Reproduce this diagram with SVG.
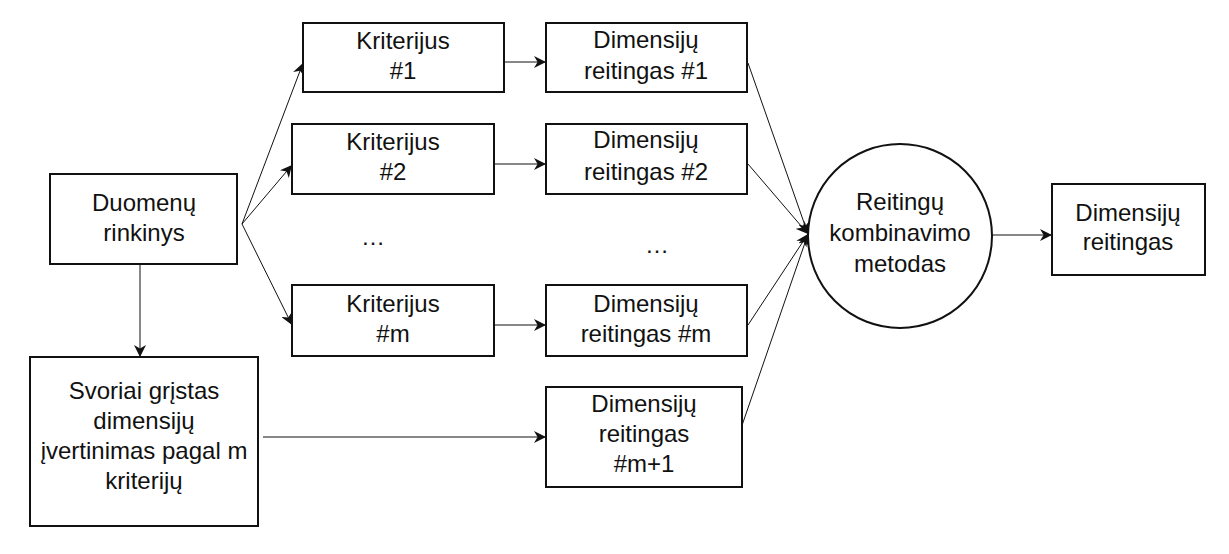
<svg xmlns="http://www.w3.org/2000/svg" width="1229" height="554" viewBox="0 0 1229 554">
<style>
.box{fill:#fff;stroke:#111;stroke-width:2}
.t{font-family:"Liberation Sans",Arial,sans-serif;font-size:24px;fill:#111;text-anchor:middle}
.c{fill:none;stroke:#111;stroke-width:1}
</style>
<defs>
<marker id="ah" markerWidth="12" markerHeight="12" refX="10" refY="5" orient="auto" markerUnits="userSpaceOnUse" viewBox="0 0 10 10">
<path d="M0,0 L10,5 L0,10 L3,5 z" fill="#111"/>
</marker>
</defs>
<rect width="1229" height="554" fill="#fff"/>
<g id="connectors">
<line class="c" x1="242" y1="224" x2="303" y2="63" marker-end="url(#ah)"/>
<line class="c" x1="242" y1="224" x2="292" y2="165" marker-end="url(#ah)"/>
<line class="c" x1="242" y1="224" x2="292" y2="325" marker-end="url(#ah)"/>
<line class="c" x1="140" y1="264" x2="140" y2="357" marker-end="url(#ah)"/>
<line class="c" x1="504" y1="62" x2="546" y2="62" marker-end="url(#ah)"/>
<line class="c" x1="494" y1="164" x2="546" y2="164" marker-end="url(#ah)"/>
<line class="c" x1="494" y1="325" x2="546" y2="325" marker-end="url(#ah)"/>
<line class="c" x1="263" y1="437" x2="546" y2="437" marker-end="url(#ah)"/>
<line class="c" x1="748" y1="63" x2="808" y2="234" marker-end="url(#ah)"/>
<line class="c" x1="748" y1="164" x2="808" y2="234" marker-end="url(#ah)"/>
<line class="c" x1="748" y1="325" x2="808" y2="234" marker-end="url(#ah)"/>
<line class="c" x1="738" y1="437" x2="808" y2="234" marker-end="url(#ah)"/>
<line class="c" x1="992" y1="235" x2="1052" y2="235" marker-end="url(#ah)"/>
</g>
<g id="duomenu">
<rect class="box" x="50" y="174" width="187" height="90"/>
<text class="t" x="144" y="211">Duomenų</text>
<text class="t" x="144" y="241">rinkinys</text>
</g>
<g id="svoriai">
<rect class="box" x="30" y="357" width="228" height="169"/>
<text class="t" x="144" y="399">Svoriai grįstas</text>
<text class="t" x="144" y="429">dimensijų</text>
<text class="t" x="144" y="459">įvertinimas pagal m</text>
<text class="t" x="144" y="489">kriterijų</text>
</g>
<g id="krit1">
<rect class="box" x="303" y="23" width="201" height="69"/>
<text class="t" x="403" y="49">Kriterijus</text>
<text class="t" x="403" y="79">#1</text>
</g>
<g id="krit2">
<rect class="box" x="292" y="124" width="202" height="70"/>
<text class="t" x="393" y="150">Kriterijus</text>
<text class="t" x="393" y="180">#2</text>
</g>
<g id="dots1"><text class="t" x="373" y="245">…</text></g>
<g id="kritm">
<rect class="box" x="292" y="285" width="202" height="71"/>
<text class="t" x="393" y="312">Kriterijus</text>
<text class="t" x="393" y="342">#m</text>
</g>
<g id="dim1">
<rect class="box" x="546" y="23" width="201" height="69"/>
<text class="t" x="646" y="48">Dimensijų</text>
<text class="t" x="646" y="79">reitingas #1</text>
</g>
<g id="dim2">
<rect class="box" x="546" y="124" width="201" height="70"/>
<text class="t" x="646" y="148">Dimensijų</text>
<text class="t" x="646" y="180">reitingas #2</text>
</g>
<g id="dots2"><text class="t" x="657" y="253">…</text></g>
<g id="dimm">
<rect class="box" x="546" y="285" width="201" height="71"/>
<text class="t" x="646" y="312">Dimensijų</text>
<text class="t" x="646" y="342">reitingas #m</text>
</g>
<g id="dimm1">
<rect class="box" x="546" y="387" width="196" height="100"/>
<text class="t" x="644" y="412">Dimensijų</text>
<text class="t" x="644" y="442">reitingas</text>
<text class="t" x="644" y="472">#m+1</text>
</g>
<g id="komb">
<circle class="box" cx="900" cy="236" r="92"/>
<text class="t" x="900" y="210">Reitingų</text>
<text class="t" x="900" y="241">kombinavimo</text>
<text class="t" x="900" y="272">metodas</text>
</g>
<g id="galut">
<rect class="box" x="1052" y="184" width="153" height="91"/>
<text class="t" x="1128" y="221">Dimensijų</text>
<text class="t" x="1128" y="250">reitingas</text>
</g>
</svg>
